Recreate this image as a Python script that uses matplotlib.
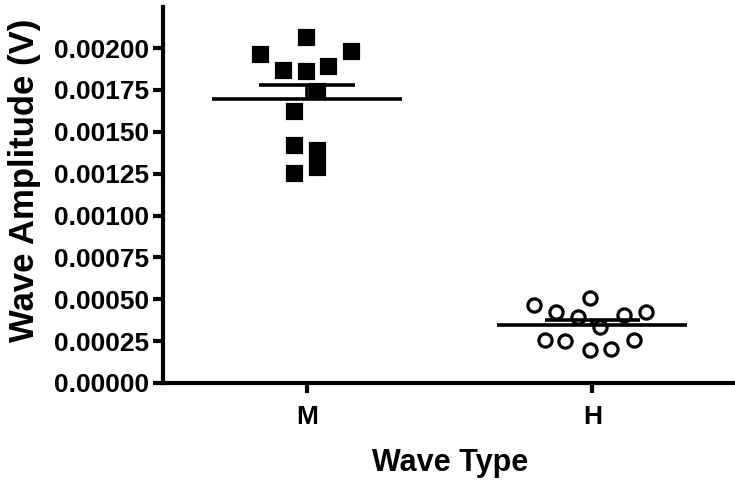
import numpy as np
import matplotlib.pyplot as plt

plt.rcParams['font.family'] = ['Liberation Sans', 'DejaVu Sans']
plt.rcParams['font.weight'] = 'bold'

# Wave amplitudes (V)
categories = ['M', 'H']
m_values = [0.002067, 0.001962, 0.001982, 0.001869, 0.001864, 0.001894,
            0.001743, 0.001624, 0.001421, 0.001391, 0.001256, 0.001291]
h_values = [0.000466, 0.000422, 0.000506, 0.000396, 0.000406, 0.000426,
            0.000336, 0.000257, 0.000251, 0.000197, 0.000203, 0.000257]

# horizontal scatter offsets of each point (category units)
m_jitter = [-0.004, -0.165, 0.154, -0.084, -0.004, 0.074,
            0.035, -0.046, -0.046, 0.035, -0.046, 0.035]
h_jitter = [-0.206, -0.129, -0.009, -0.050, 0.110, 0.189,
            0.028, -0.167, -0.095, -0.009, 0.067, 0.147]

yticks = [0, 0.00025, 0.0005, 0.00075, 0.001, 0.00125, 0.0015, 0.00175, 0.002]

fig = plt.figure(figsize=(7.35, 4.87), dpi=100)
ax = fig.add_axes([163 / 735, 1 - 383 / 487, 1 - 163 / 735, 376 / 487])

groups = [(m_values, m_jitter, 's', 'black'), (h_values, h_jitter, 'o', 'white')]
for i, (vals, jit, mk, fc) in enumerate(groups):
    x = i + 1
    vals = np.array(vals)
    ax.plot(x + np.array(jit), vals, linestyle='none', marker=mk, markersize=9.5,
            markerfacecolor=fc, markeredgecolor='black', markeredgewidth=2.3, zorder=3)
    mean = vals.mean()
    sem = vals.std(ddof=1) / np.sqrt(len(vals))
    # mean line and upper SEM bar
    ax.hlines(mean, x - 0.333, x + 0.333, color='black', linewidth=2.6, zorder=4)
    ax.hlines(mean + sem, x - 0.167, x + 0.167, color='black', linewidth=2.6, zorder=4)
    ax.vlines(x, mean, mean + sem, color='black', linewidth=2.6, zorder=4)

ax.set_xlim(0.495, 2.5)
ax.set_ylim(0, 0.002245)
ax.set_xticks([1, 2])
ax.set_xticklabels(categories)
ax.set_yticks(yticks)
ax.set_yticklabels(['%.5f' % v for v in yticks])

for s in ['top', 'right']:
    ax.spines[s].set_visible(False)
for s in ['left', 'bottom']:
    ax.spines[s].set_linewidth(3)
ax.tick_params(axis='both', length=7, width=3, labelsize=19)
ax.tick_params(axis='x', pad=9)
ax.tick_params(axis='y', pad=3)

ax.set_ylabel('Wave Amplitude (V)', fontsize=25, fontweight='bold', va='center')
ax.yaxis.set_label_coords(-0.243, 0.54)
ax.set_xlabel('Wave Type', fontsize=22, fontweight='bold', va='center')
ax.xaxis.set_label_coords(0.502, -0.213)

plt.savefig('out.png', dpi=100)
